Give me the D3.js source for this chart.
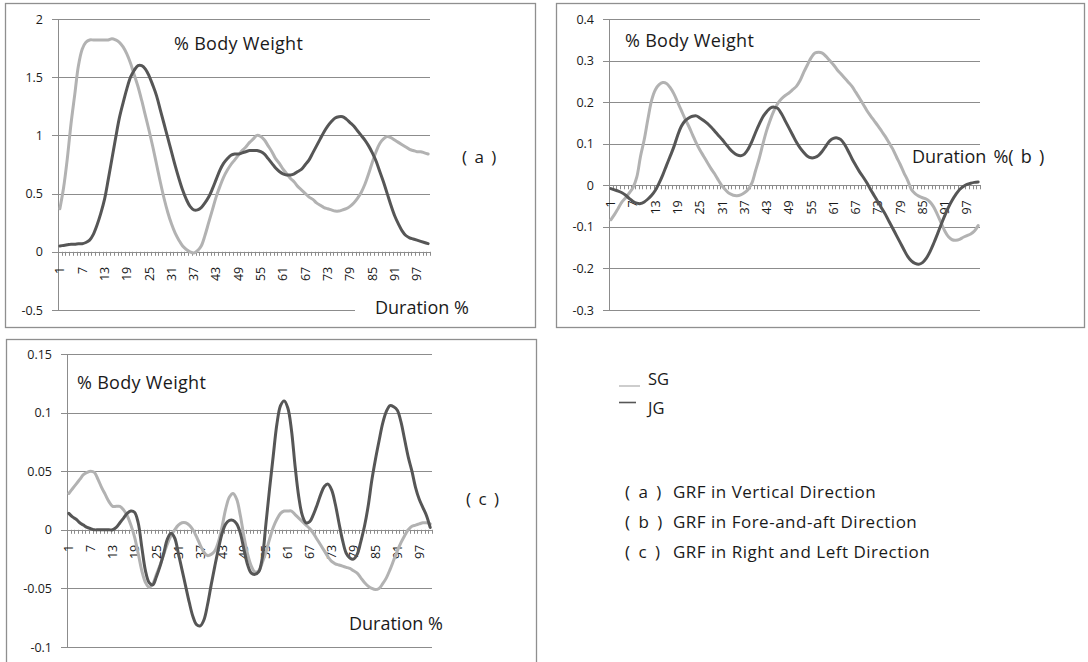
<!DOCTYPE html>
<html>
<head>
<meta charset="utf-8">
<script src="https://cdn.jsdelivr.net/npm/d3@7"></script>
<style>
  html, body { margin: 0; padding: 0; background: #ffffff; }
  svg { display: block; }
  text { font-family: "Open Sans", "Noto Sans", sans-serif; fill: #1a1a1a; }
</style>
</head>
<body>
<svg id="chart" width="1088" height="662"></svg>
<script>
// ---------------- DATA ----------------
const categories = d3.range(1, 101);
const xTickLabels = [1, 7, 13, 19, 25, 31, 37, 43, 49, 55, 61, 67, 73, 79, 85, 91, 97];
const seriesNames = ["SG", "JG"];

const yTicksA = [-0.5, 0, 0.5, 1, 1.5, 2];
const yTicksB = [-0.3, -0.2, -0.1, 0, 0.1, 0.2, 0.3, 0.4];
const yTicksC = [-0.1, -0.05, 0, 0.05, 0.1, 0.15];

// (a) GRF in Vertical Direction
const sgA = [0.37,0.55,0.8,1.1,1.35,1.6,1.74,1.8,1.82,1.82,1.82,1.82,1.82,1.82,1.83,1.82,1.8,1.76,1.7,1.62,
  1.52,1.42,1.3,1.17,1.04,0.9,0.75,0.6,0.46,0.34,0.24,0.16,0.1,0.05,0.02,0.0,-0.01,0.01,0.05,0.14,
  0.25,0.36,0.47,0.56,0.64,0.7,0.75,0.79,0.83,0.87,0.9,0.94,0.97,1.0,0.99,0.96,0.91,0.86,0.8,0.76,
  0.71,0.67,0.63,0.6,0.56,0.53,0.5,0.47,0.45,0.42,0.4,0.38,0.37,0.36,0.35,0.35,0.36,0.37,0.39,0.42,
  0.46,0.51,0.58,0.67,0.77,0.86,0.93,0.97,0.99,0.98,0.96,0.94,0.92,0.9,0.88,0.87,0.86,0.86,0.85,0.84];
const jgA = [0.05,0.055,0.06,0.065,0.065,0.07,0.07,0.08,0.1,0.15,0.23,0.33,0.45,0.62,0.8,0.98,1.15,1.28,1.4,1.5,
  1.56,1.6,1.6,1.57,1.51,1.43,1.34,1.22,1.1,0.98,0.86,0.74,0.63,0.53,0.45,0.39,0.36,0.36,0.38,0.42,
  0.47,0.54,0.62,0.7,0.76,0.8,0.83,0.84,0.84,0.85,0.86,0.87,0.87,0.87,0.86,0.84,0.8,0.76,0.72,0.69,
  0.67,0.66,0.66,0.67,0.69,0.71,0.75,0.79,0.85,0.91,0.97,1.03,1.08,1.12,1.15,1.16,1.16,1.14,1.11,1.08,
  1.04,1.0,0.96,0.91,0.85,0.78,0.69,0.6,0.5,0.4,0.31,0.24,0.18,0.14,0.12,0.11,0.1,0.09,0.08,0.07];

// (b) GRF in Fore-and-aft Direction
const sgB = [-0.083,-0.07,-0.055,-0.04,-0.03,-0.018,-0.005,0.02,0.07,0.11,0.16,0.205,0.23,0.242,0.247,0.245,0.235,0.22,0.2,0.18,
  0.16,0.142,0.122,0.102,0.085,0.07,0.055,0.04,0.027,0.012,-0.002,-0.012,-0.02,-0.024,-0.025,-0.023,-0.018,-0.01,0.005,0.035,
  0.065,0.1,0.132,0.158,0.18,0.197,0.208,0.216,0.222,0.23,0.238,0.252,0.272,0.29,0.307,0.318,0.32,0.318,0.31,0.3,
  0.29,0.278,0.268,0.258,0.248,0.238,0.224,0.21,0.195,0.18,0.167,0.155,0.143,0.13,0.117,0.102,0.087,0.068,0.05,0.03,
  0.012,-0.01,-0.02,-0.026,-0.03,-0.033,-0.04,-0.052,-0.07,-0.09,-0.11,-0.124,-0.131,-0.132,-0.13,-0.125,-0.121,-0.117,-0.11,-0.097];
const jgB = [-0.008,-0.011,-0.014,-0.018,-0.024,-0.032,-0.039,-0.043,-0.044,-0.04,-0.033,-0.024,-0.012,0.005,0.025,0.048,0.07,0.093,0.12,0.142,
  0.155,0.162,0.166,0.167,0.162,0.156,0.149,0.14,0.13,0.12,0.11,0.099,0.088,0.079,0.073,0.071,0.075,0.087,0.105,0.127,
  0.147,0.165,0.177,0.186,0.188,0.185,0.172,0.155,0.138,0.121,0.104,0.09,0.079,0.07,0.066,0.067,0.072,0.082,0.095,0.107,
  0.113,0.114,0.11,0.098,0.082,0.064,0.048,0.033,0.02,0.006,-0.01,-0.025,-0.04,-0.055,-0.07,-0.087,-0.104,-0.121,-0.138,-0.155,
  -0.171,-0.182,-0.188,-0.19,-0.186,-0.176,-0.16,-0.14,-0.118,-0.095,-0.073,-0.053,-0.036,-0.022,-0.01,-0.003,0.002,0.005,0.007,0.008];

// (c) GRF in Right and Left Direction
const sgC = [0.031,0.035,0.039,0.043,0.047,0.049,0.05,0.049,0.043,0.036,0.03,0.024,0.02,0.02,0.02,0.017,0.012,0.004,-0.006,-0.02,
  -0.035,-0.045,-0.049,-0.046,-0.038,-0.03,-0.021,-0.012,-0.005,0.0,0.004,0.006,0.006,0.004,0.0,-0.006,-0.013,-0.019,-0.022,-0.021,
  -0.018,-0.01,0.003,0.018,0.028,0.031,0.026,0.012,-0.006,-0.021,-0.031,-0.036,-0.035,-0.028,-0.019,-0.008,0.002,0.009,0.014,0.016,
  0.016,0.016,0.013,0.01,0.007,0.004,0.001,-0.003,-0.008,-0.013,-0.018,-0.023,-0.027,-0.029,-0.03,-0.031,-0.032,-0.033,-0.035,-0.037,
  -0.041,-0.045,-0.048,-0.05,-0.051,-0.05,-0.046,-0.041,-0.034,-0.026,-0.018,-0.011,-0.005,0.0,0.003,0.004,0.005,0.006,0.006,0.005];
const jgC = [0.014,0.011,0.009,0.006,0.004,0.002,0.001,0.0,0.0,0.0,0.0,0.0,0.0,0.002,0.006,0.01,0.014,0.016,0.015,0.006,
  -0.015,-0.035,-0.045,-0.047,-0.04,-0.031,-0.02,-0.008,-0.003,-0.007,-0.02,-0.034,-0.048,-0.062,-0.074,-0.081,-0.082,-0.077,-0.064,-0.047,
  -0.031,-0.016,-0.003,0.005,0.008,0.008,0.005,-0.003,-0.017,-0.03,-0.037,-0.038,-0.036,-0.024,0.005,0.035,0.063,0.09,0.106,0.11,
  0.104,0.085,0.054,0.028,0.012,0.006,0.007,0.013,0.021,0.03,0.037,0.039,0.034,0.022,0.006,-0.009,-0.02,-0.024,-0.025,-0.021,
  -0.01,0.003,0.02,0.042,0.06,0.076,0.091,0.101,0.106,0.105,0.102,0.092,0.077,0.062,0.05,0.036,0.026,0.019,0.012,0.002];

const panelLetters = ["a", "b", "c"];
const captions = ["GRF in Vertical Direction", "GRF in Fore-and-aft Direction", "GRF in Right and Left Direction"];

// ---------------- LAYOUT / STYLE ----------------
const COLORS = { SG: "#b2b2b2", JG: "#565656" };
const GRID = "#8c8c8c";
const FRAME = "#8f8f8f";

const panels = [
  { frame: [5, 3, 530, 324], x0: 58, x1: 430, yTop: 19, yBot: 310, ticks: yTicksA,
    sg: sgA, jg: jgA,
    texts: [
      { t: "% Body Weight", x: 174, y: 50, box: null, fs: 18, ls: 0.3, ws: 0 },
      { t: "Duration %", x: 375, y: 314, box: [355, 296, 118, 24], fs: 18, ls: 0, ws: 0 },
      { t: "( a )", x: 462, y: 163, box: null, fs: 17, ls: 0, ws: 3 }
    ] },
  { frame: [556, 3, 528, 324], x0: 609, x1: 980, yTop: 19, yBot: 310, ticks: yTicksB,
    sg: sgB, jg: jgB,
    texts: [
      { t: "% Body Weight", x: 625, y: 47, box: null, fs: 18, ls: 0.3, ws: 0 },
      { t: "Duration %( b )", x: 912, y: 163, box: [907, 146, 140, 24], fs: 18, ls: 0, ws: 2.5 }
    ] },
  { frame: [6, 339, 530, 340], x0: 67, x1: 432, yTop: 354, yBot: 647, ticks: yTicksC,
    sg: sgC, jg: jgC,
    texts: [
      { t: "% Body Weight", x: 77, y: 389, box: null, fs: 18, ls: 0.3, ws: 0 },
      { t: "Duration %", x: 349, y: 630, box: [340, 612, 110, 24], fs: 18, ls: 0, ws: 0 },
      { t: "( c )", x: 466, y: 505, box: null, fs: 17, ls: 0, ws: 3 }
    ] }
];

const svg = d3.select("#chart");
svg.append("rect").attr("width", 1088).attr("height", 662).attr("fill", "#fff");

panels.forEach(p => {
  const g = svg.append("g");
  g.append("rect")
    .attr("x", p.frame[0] + 0.5).attr("y", p.frame[1] + 0.5)
    .attr("width", p.frame[2]).attr("height", p.frame[3])
    .attr("fill", "#fff").attr("stroke", FRAME).attr("stroke-width", 1.3);

  const x = d3.scaleBand().domain(categories).range([p.x0, p.x1]);
  const y = d3.scaleLinear().domain([d3.min(p.ticks), d3.max(p.ticks)]).range([p.yBot, p.yTop]);
  const cx = c => x(c) + x.bandwidth() / 2;

  // gridlines
  const grid = g.append("g").attr("transform", `translate(${p.x0},0)`)
    .call(d3.axisRight(y).tickValues(p.ticks).tickSize(p.x1 - p.x0).tickFormat(""));
  grid.select(".domain").remove();
  grid.selectAll("line").attr("stroke", GRID).attr("stroke-width", 1).attr("shape-rendering", "crispEdges");

  // y axis with labels
  const ya = g.append("g").attr("transform", `translate(${p.x0},0)`)
    .call(d3.axisLeft(y).tickValues(p.ticks).tickSize(6).tickPadding(9).tickSizeOuter(0).tickFormat(d => String(d)));
  ya.select(".domain").attr("stroke", GRID).attr("shape-rendering", "crispEdges");
  ya.selectAll(".tick line").attr("stroke", GRID).attr("shape-rendering", "crispEdges");
  ya.selectAll("text").attr("font-size", 12.5).attr("font-family", "Open Sans, sans-serif").attr("fill", "#1a1a1a");

  // x axis at zero
  const y0 = y(0);
  const xa = g.append("g").attr("transform", `translate(0,${y0})`)
    .call(d3.axisBottom(x).tickValues(xTickLabels).tickSize(0).tickSizeOuter(0));
  xa.select(".domain").attr("stroke", GRID).attr("shape-rendering", "crispEdges");
  xa.selectAll("text")
    .attr("transform", "rotate(-90)")
    .attr("x", -15).attr("y", 0).attr("dy", "0.35em")
    .attr("text-anchor", "end")
    .attr("font-size", 12.5).attr("font-family", "Open Sans, sans-serif").attr("fill", "#1a1a1a");
  // minor tick marks at every category boundary
  const bounds = categories.map(c => x(c)).concat([p.x1]);
  g.append("g").selectAll("line").data(bounds).join("line")
    .attr("x1", d => Math.round(d) + 0.5).attr("x2", d => Math.round(d) + 0.5)
    .attr("y1", y0).attr("y2", y0 + 4)
    .attr("stroke", GRID).attr("stroke-width", 1);

  // series lines
  const line = d3.line().x((d, i) => cx(categories[i])).y(d => y(d)).curve(d3.curveCatmullRom.alpha(0.5));
  g.append("path").attr("d", line(p.sg)).attr("fill", "none").attr("stroke", COLORS.SG)
    .attr("stroke-width", 3).attr("stroke-linejoin", "round").attr("stroke-linecap", "round");
  g.append("path").attr("d", line(p.jg)).attr("fill", "none").attr("stroke", COLORS.JG)
    .attr("stroke-width", 3).attr("stroke-linejoin", "round").attr("stroke-linecap", "round");

  // text boxes
  p.texts.forEach(t => {
    if (t.box) g.append("rect").attr("x", t.box[0]).attr("y", t.box[1]).attr("width", t.box[2]).attr("height", t.box[3]).attr("fill", "#fff");
    g.append("text").attr("x", t.x).attr("y", t.y).attr("font-size", t.fs)
      .style("letter-spacing", t.ls + "px").style("word-spacing", t.ws + "px")
      .style("white-space", "pre").text(t.t);
  });
});

// legend
const legend = svg.append("g");
const legendItems = [
  { name: seriesNames[0], x1: 619, x2: 640, ly: 386, ty: 385, w: 1.3 },
  { name: seriesNames[1], x1: 619, x2: 636, ly: 402.5, ty: 414, w: 1.6 }
];
legendItems.forEach(d => {
  legend.append("line").attr("x1", d.x1).attr("x2", d.x2).attr("y1", d.ly).attr("y2", d.ly)
    .attr("stroke", COLORS[d.name]).attr("stroke-width", d.w);
  legend.append("text").attr("x", 648).attr("y", d.ty).attr("font-size", 16.5).text(d.name);
});

// captions
panelLetters.forEach((l, i) => {
  const yy = 498 + i * 30;
  svg.append("text").attr("x", 625).attr("y", yy).attr("font-size", 17)
    .style("white-space", "pre").style("word-spacing", "4px").text(`( ${l} )`);
  svg.append("text").attr("x", 673).attr("y", yy).attr("font-size", 17)
    .style("letter-spacing", "0.5px").text(captions[i]);
});
</script>
</body>
</html>
